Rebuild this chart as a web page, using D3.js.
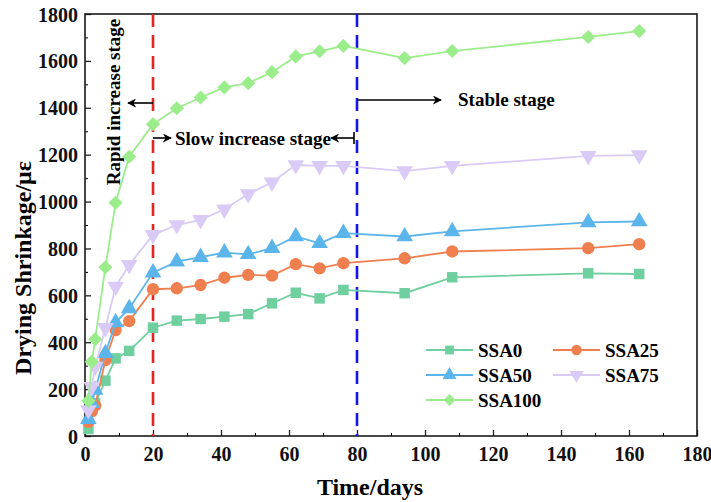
<!DOCTYPE html>
<html>
<head>
<meta charset="utf-8">
<script src="https://cdn.jsdelivr.net/npm/d3@7"></script>
<style>
  body { margin: 0; background: #fff; }
  text { font-family: "Liberation Serif", "Times New Roman", serif; font-weight: bold; }
</style>
</head>
<body>
<svg width="711" height="502"></svg>
<script>
const days = [1, 2, 3, 6, 9, 13, 20, 27, 34, 41, 48, 55, 62, 69, 76, 94, 108, 148, 163];
const ssa0 = [30, 114, 139, 236, 331, 363, 462, 492, 499, 509, 520, 566, 611, 587, 623, 609, 677, 694, 691];
const ssa25 = [60, 105, 130, 324, 452, 490, 626, 630, 644, 675, 687, 684, 733, 715, 737, 758, 787, 801, 818];
const ssa50 = [72, 140, 196, 353, 484, 544, 697, 744, 763, 782, 775, 801, 851, 822, 865, 851, 873, 911, 915];
const ssa75 = [111, 210, 296, 461, 637, 730, 858, 900, 922, 967, 1032, 1082, 1156, 1152, 1152, 1130, 1152, 1195, 1198];
const ssa100 = [150, 317, 413, 720, 995, 1191, 1330, 1398, 1444, 1487, 1505, 1552, 1619, 1641, 1664, 1612, 1642, 1702, 1727];

const seriesNames = ["SSA0", "SSA25", "SSA50", "SSA75", "SSA100"];
const seriesValues = [ssa0, ssa25, ssa50, ssa75, ssa100];
const colors = ["#6fcf9e", "#f07f4f", "#5cb5ea", "#d9cbf6", "#9bed8c"];
const xTicks = [0, 20, 40, 60, 80, 100, 120, 140, 160, 180];
const yTicks = [0, 200, 400, 600, 800, 1000, 1200, 1400, 1600, 1800];
const stageLines = [20, 80];

const svg = d3.select("svg");
const margin = { top: 14, right: 14, bottom: 66, left: 85 };
const width = +svg.attr("width") - margin.left - margin.right;
const height = +svg.attr("height") - margin.top - margin.bottom;

const x = d3.scaleLinear().domain([0, 180]).range([0, width]);
const y = d3.scaleLinear().domain([0, 1800]).range([height, 0]);

const g = svg.append("g").attr("transform", `translate(${margin.left},${margin.top})`);

// minor ticks (inside)
g.append("g").attr("transform", `translate(0,${height})`)
    .call(d3.axisBottom(x).tickValues(d3.range(10, 180, 20)).tickSize(-3).tickFormat(""))
    .call(a => a.select(".domain").remove());
g.append("g")
    .call(d3.axisLeft(y).tickValues(d3.range(100, 1800, 200)).tickSize(-3).tickFormat(""))
    .call(a => a.select(".domain").remove());

const xAxis = g.append("g").attr("transform", `translate(0,${height})`)
    .call(d3.axisBottom(x).tickValues(xTicks).tickSize(-6).tickPadding(9).tickFormat(d3.format("d")));
const yAxis = g.append("g")
    .call(d3.axisLeft(y).tickValues(yTicks).tickSize(-6).tickPadding(7).tickFormat(d3.format("d")));
[xAxis, yAxis].forEach(a => {
    a.selectAll("text").style("font-size", "20px").attr("fill", "#111");
    a.selectAll("line").attr("stroke", "#222").attr("stroke-width", 1.3);
    a.select(".domain").remove();
});
xAxis.selectAll("text").attr("dy", "0.8em");
yAxis.selectAll("text").attr("dy", "0.35em");

// frame
g.append("rect").attr("width", width).attr("height", height)
    .attr("fill", "none").attr("stroke", "#1a1a1a").attr("stroke-width", 1.6);

// axis titles
svg.append("text").attr("x", 370).attr("y", 495)
    .attr("text-anchor", "middle").style("font-size", "24px").text("Time/days");
svg.append("text").attr("transform", `translate(31,268) rotate(-90)`)
    .attr("text-anchor", "middle").style("font-size", "24px").text("Drying Shrinkage/με");

// stage dividers
stageLines.forEach((d, i) => {
    g.append("line").attr("x1", x(d)).attr("x2", x(d)).attr("y1", 0).attr("y2", height)
        .attr("stroke", i === 0 ? "#e8231f" : "#1414e6").attr("stroke-width", 2.6)
        .attr("stroke-dasharray", "13,8");
});

// arrows
const defs = svg.append("defs");
defs.append("marker").attr("id", "arr").attr("viewBox", "0 0 10 10").attr("refX", 9).attr("refY", 5)
    .attr("markerWidth", 9).attr("markerHeight", 9).attr("orient", "auto-start-reverse")
    .attr("markerUnits", "userSpaceOnUse")
    .append("path").attr("d", "M0,0 L10,5 L0,10 L3,5 Z").attr("fill", "#000");

function arrow(x1, x2, yy) {
    g.append("line").attr("x1", x1).attr("x2", x2).attr("y1", yy).attr("y2", yy)
        .attr("stroke", "#000").attr("stroke-width", 1.6).attr("marker-end", "url(#arr)");
}
arrow(x(20), x(20) - 25, 89);
arrow(x(20), x(20) + 18, 124);
arrow(x(80) - 3, x(80) - 26, 124);
g.append("line").attr("x1", x(80) - 3).attr("x2", x(80) - 3).attr("y1", 118).attr("y2", 130)
    .attr("stroke", "#000").attr("stroke-width", 1.6);
arrow(x(80), x(80) + 84, 86);

g.append("text").attr("transform", `translate(${x(20) - 33},88) rotate(-90)`)
    .attr("text-anchor", "middle").style("font-size", "19px").text("Rapid increase stage");
g.append("text").attr("x", x(20) + 22).attr("y", 131).style("font-size", "19px").text("Slow increase stage");
g.append("text").attr("x", x(80) + 101).attr("y", 92).style("font-size", "19px").text("Stable stage");

// series
const symbols = [
    { type: d3.symbolSquare, size: 110, rot: 0 },
    { type: d3.symbolCircle, size: 120, rot: 0 },
    { type: d3.symbolTriangle, size: 120, rot: 0 },
    { type: d3.symbolTriangle, size: 120, rot: 180 },
    { type: d3.symbolSquare, size: 100, rot: 45 }
];
const line = d3.line().x((d, i) => x(days[i])).y(d => y(d));

seriesValues.forEach((vals, s) => {
    g.append("path").datum(vals).attr("d", line)
        .attr("fill", "none").attr("stroke", colors[s]).attr("stroke-width", 1.8);
    const sym = d3.symbol().type(symbols[s].type).size(symbols[s].size);
    g.selectAll(null).data(vals).join("path")
        .attr("d", sym)
        .attr("transform", (d, i) => `translate(${x(days[i])},${y(d)}) rotate(${symbols[s].rot})`)
        .attr("fill", colors[s]);
});

// legend
const legend = svg.append("g");
seriesNames.forEach((name, s) => {
    const col = s % 2, row = Math.floor(s / 2);
    const lx = 426 + col * 127, ly = 350 + row * 25;
    legend.append("line").attr("x1", lx).attr("x2", lx + 47).attr("y1", ly).attr("y2", ly)
        .attr("stroke", colors[s]).attr("stroke-width", 1.8);
    legend.append("path").attr("d", d3.symbol().type(symbols[s].type).size(symbols[s].size * 0.7)())
        .attr("transform", `translate(${lx + 23.5},${ly}) rotate(${symbols[s].rot})`)
        .attr("fill", colors[s]);
    legend.append("text").attr("x", lx + 52).attr("y", ly).attr("dy", "0.35em")
        .style("font-size", "19px").text(name);
});
</script>
</body>
</html>
